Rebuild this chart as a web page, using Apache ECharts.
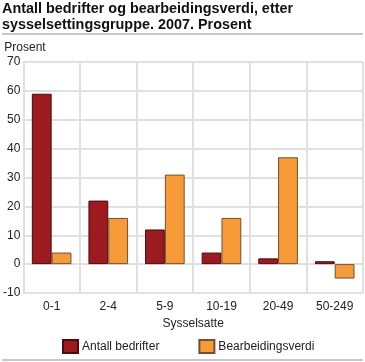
<!DOCTYPE html>
<html><head><meta charset="utf-8">
<script src="https://cdn.jsdelivr.net/npm/echarts@6/dist/echarts.min.js"></script>
<style>html,body{margin:0;padding:0;background:#fff}#c{width:365px;height:362px}</style>
</head><body><div id="c"></div>
<script>
const categories = ['0-1','2-4','5-9','10-19','20-49','50-249'];
const antallBedrifter = [59, 22, 12, 4, 2, 1];
const bearbeidingsverdi = [4, 16, 31, 16, 37, -5];
const yTicks = [-10, 0, 10, 20, 30, 40, 50, 60, 70];
const seriesNames = ['Antall bedrifter', 'Bearbeidingsverdi'];
const titleText = 'Antall bedrifter og bearbeidingsverdi, etter\nsysselsettingsgruppe. 2007. Prosent';

const chart = echarts.init(document.getElementById('c'), null, {renderer:'canvas'});
const font = "'Liberation Sans', Arial, sans-serif";
chart.setOption({
  animation: false,
  textStyle: {fontFamily: font},
  title: {
    text: titleText, left: 2, top: 0, padding: [1, 0, 0, 0],
    textStyle: {fontFamily: font, fontSize: 14.4, fontWeight: 'bold', color: '#111', lineHeight: 16}
  },
  graphic: [
    {type:'rect', shape:{x:2, y:33, width:361, height:2}, style:{fill:'#c8c8c8'}},
    {type:'rect', shape:{x:2, y:359, width:361, height:2}, style:{fill:'#c8c8c8'}}
  ],
  legend: {
    data: seriesNames, bottom: 8, left: 62, padding: 0,
    itemWidth: 15, itemHeight: 13, itemGap: 39, icon: 'rect',
    textStyle: {fontFamily: font, fontSize: 12, color: '#222', padding: [0, 0, 0, -1]}
  },
  grid: {left: 22, right: 2, top: 62, bottom: 69},
  xAxis: {
    type: 'category', data: categories,
    name: 'Sysselsatte', nameLocation: 'middle', nameGap: 22,
    nameTextStyle: {fontFamily: font, fontSize: 12, color: '#222'},
    axisLine: {show: false},
    axisTick: {show: false},
    axisLabel: {fontFamily: font, fontSize: 12, color: '#222', margin: 8},
    splitLine: {show: true, lineStyle: {color: '#e0e0e0', width: 2}}
  },
  yAxis: {
    type: 'value', min: yTicks[0], max: yTicks[yTicks.length-1], interval: 10,
    name: 'Prosent', nameLocation: 'end', nameGap: 8,
    nameTextStyle: {fontFamily: font, fontSize: 12, color: '#222', align: 'left', padding: [0,0,0,-19]},
    axisLine: {show: true, lineStyle: {color: '#e0e0e0', width: 2}},
    axisTick: {show: false},
    axisLabel: {fontFamily: font, fontSize: 12, color: '#222', margin: 3},
    splitLine: {show: true, lineStyle: {color: '#e0e0e0', width: 2}}
  },
  series: [
    {name: seriesNames[0], type: 'bar', data: antallBedrifter, barGap: '0%', barCategoryGap: '30%',
     itemStyle: {color: '#9c1b21', borderColor: '#4a0c0e', borderWidth: 1}},
    {name: seriesNames[1], type: 'bar', data: bearbeidingsverdi,
     itemStyle: {color: '#f79b38', borderColor: '#6e5232', borderWidth: 1}}
  ]
});
</script></body></html>
